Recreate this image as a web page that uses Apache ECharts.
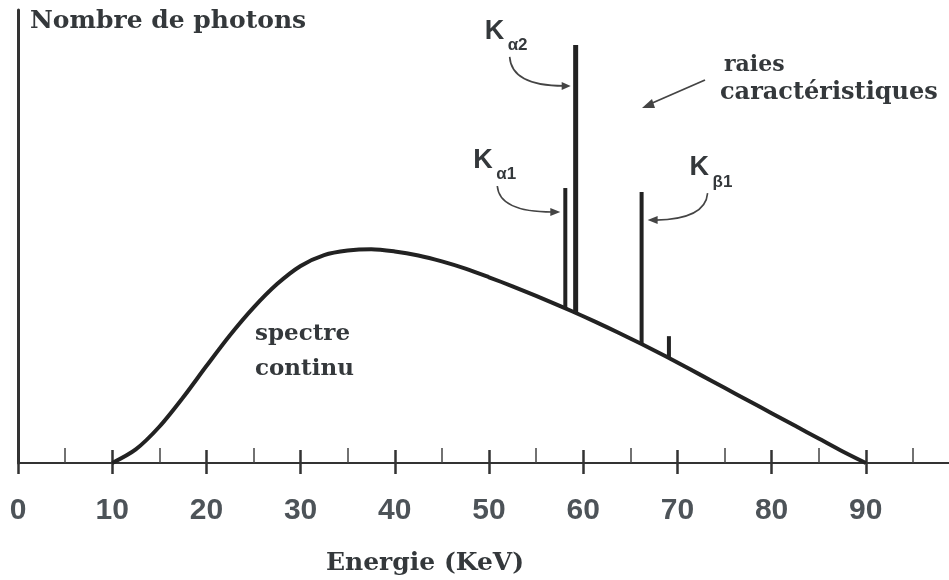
<!DOCTYPE html>
<html>
<head>
<meta charset="utf-8">
<script src="https://cdn.jsdelivr.net/npm/echarts@6/dist/echarts.min.js"></script>
<style>
html, body { margin: 0; padding: 0; background: #fff; }
#chart { width: 949px; height: 580px; }
</style>
</head>
<body>
<div id="chart"></div>
<script>
// spectre continu : énergie (keV) / nombre de photons (unités arbitraires)
const continuumEnergy = [10, 12.5, 15, 17.5, 20, 22.5, 25, 27.5, 30, 32.5, 35, 37.5, 40, 42.5, 45, 47.5, 50, 52.5, 55, 57.5, 60, 62.5, 65, 67.5, 70, 72.5, 75, 77.5, 80, 82.5, 85, 87.5, 90];
const continuumCount = [0, 3.0, 8.0, 14.4, 21.4, 28.2, 34.3, 39.5, 43.5, 45.9, 46.9, 47.2, 46.7, 45.8, 44.5, 42.9, 41.0, 39.0, 36.9, 34.7, 32.4, 30.0, 27.5, 24.9, 22.2, 19.4, 16.6, 13.8, 11.0, 8.2, 5.4, 2.6, 0];

// raies caractéristiques
const peakEnergy = [58.1, 59.2, 66.2, 69.1];
const peakBase = [34.2, 33.0, 26.3, 23.0];
const peakTop = [60.7, 92.3, 59.8, 28.0];

// graduations de l'axe
const xTickLabels = [0, 10, 20, 30, 40, 50, 60, 70, 80, 90];

const serif = 'DejaVu Serif';
const sans = 'Liberation Sans';
const ink = '#222';
const textInk = '#34383b';

let chart = echarts.init(document.getElementById('chart'), null, {renderer: 'canvas'});

let tickAxis = {
  type: 'value',
  min: 0,
  max: 100,
  interval: 10,
  splitLine: {show: false}
};

let option = {
  backgroundColor: '#fff',
  animation: false,
  grid: {left: 18, top: 10, width: 942, height: 453, outerBoundsMode: 'none'},
  xAxis: [
    Object.assign({}, tickAxis, {
      position: 'bottom',
      axisLine: {lineStyle: {color: '#333', width: 2}},
      axisTick: {inside: true, length: 13, lineStyle: {color: '#333', width: 2.5}},
      minorTick: {show: true, splitNumber: 2, length: 15, lineStyle: {color: '#444', width: 1.5}},
      axisLabel: {
        margin: 33,
        fontFamily: sans,
        fontWeight: 'bold',
        fontSize: 30,
        color: '#4d5358',
        formatter: v => xTickLabels.indexOf(v) >= 0 ? String(v) : ''
      }
    }),
    // second axis only for the part of the major ticks below the line
    Object.assign({}, tickAxis, {
      position: 'top',
      offset: -453,
      axisLine: {show: false},
      axisTick: {inside: true, length: 11, lineStyle: {color: '#333', width: 2.5}},
      axisLabel: {show: false}
    })
  ],
  yAxis: {
    type: 'value',
    min: 0,
    max: 100,
    axisLine: {show: true, lineStyle: {color: '#333', width: 3}},
    axisTick: {show: false},
    axisLabel: {show: false},
    splitLine: {show: false}
  },
  series: [
    {
      type: 'line',
      name: 'spectre continu',
      data: continuumEnergy.map((e, i) => [e, continuumCount[i]]),
      smooth: 0.3,
      symbol: 'none',
      lineStyle: {color: ink, width: 4},
      z: 3
    },
    {
      type: 'custom',
      name: 'raies',
      data: peakEnergy.map((e, i) => [e, peakBase[i], peakTop[i]]),
      encode: {x: 0, y: [1, 2]},
      renderItem: (params, api) => {
        let p0 = api.coord([api.value(0), api.value(1)]);
        let p1 = api.coord([api.value(0), api.value(2)]);
        return {
          type: 'line',
          shape: {x1: p0[0], y1: p0[1], x2: p1[0], y2: p1[1]},
          style: {stroke: ink, lineWidth: params.dataIndex === 1 ? 5 : 4}
        };
      },
      z: 4
    }
  ]
};

chart.setOption(option);

// annotations placed relative to the peak tops
let label = (x, y, text, size, family, weight, align) => ({
  type: 'text',
  x: x, y: y,
  style: {
    text: text, fill: textInk,
    font: (weight || 'bold') + ' ' + size + 'px "' + family + '"',
    textAlign: align || 'left', textVerticalAlign: 'middle'
  }
});

let curvedArrow = (t, s, c, e, tip) => [
  {
    type: 'bezierCurve',
    shape: {x1: t[0] + s[0], y1: t[1] + s[1], cpx1: t[0] + c[0], cpy1: t[1] + c[1], x2: t[0] + e[0], y2: t[1] + e[1]},
    style: {stroke: '#444', lineWidth: 1.6, fill: null}
  },
  {
    type: 'polygon',
    shape: {points: [
      [t[0] + tip[0], t[1] + tip[1]],
      [t[0] + e[0] - (tip[0] > e[0] ? 2 : -2), t[1] + e[1] - 4],
      [t[0] + e[0] - (tip[0] > e[0] ? 2 : -2), t[1] + e[1] + 4]
    ]},
    style: {fill: '#444'}
  }
];

let tops = peakEnergy.map((e, i) => chart.convertToPixel({xAxisIndex: 0, yAxisIndex: 0}, [e, peakTop[i]]));
let tA1 = tops[0], tA2 = tops[1], tB1 = tops[2];

let graphics = [
  label(30, 21, 'Nombre de photons', 25, serif),
  label(425, 563, 'Energie (KeV)', 25, serif, 'bold', 'center'),
  label(255, 334, 'spectre', 23, serif),
  label(255, 369, 'continu', 23, serif),
  label(724, 65, 'raies', 22, serif),
  label(720, 93, 'caractéristiques', 24, serif),
  // K alpha 2
  label(tA2[0] - 91, tA2[1] - 13, 'K', 27, sans),
  label(tA2[0] - 68, tA2[1], 'α2', 17, sans),
  // K alpha 1
  label(tA1[0] - 92, tA1[1] - 27, 'K', 27, sans),
  label(tA1[0] - 69, tA1[1] - 14, 'α1', 17, sans),
  // K beta 1
  label(tB1[0] + 48, tB1[1] - 25, 'K', 27, sans),
  label(tB1[0] + 71, tB1[1] - 10, 'β1', 17, sans),
  // raies caracteristiques arrow
  {type: 'line', shape: {x1: 705, y1: 80, x2: 650, y2: 104}, style: {stroke: '#444', lineWidth: 1.8}},
  {type: 'polygon', shape: {points: [[642, 108], [652, 99], [655, 108]]}, style: {fill: '#444'}}
];
graphics = graphics
  .concat(curvedArrow(tA2, [-66, 12], [-64, 41], [-12, 41], [-5, 41]))
  .concat(curvedArrow(tA1, [-68, -2], [-66, 24], [-13, 24], [-5, 24]))
  .concat(curvedArrow(tB1, [66, 1], [64, 27], [14, 28], [6, 28]));

chart.setOption({graphic: {elements: graphics}});
</script>
</body>
</html>
